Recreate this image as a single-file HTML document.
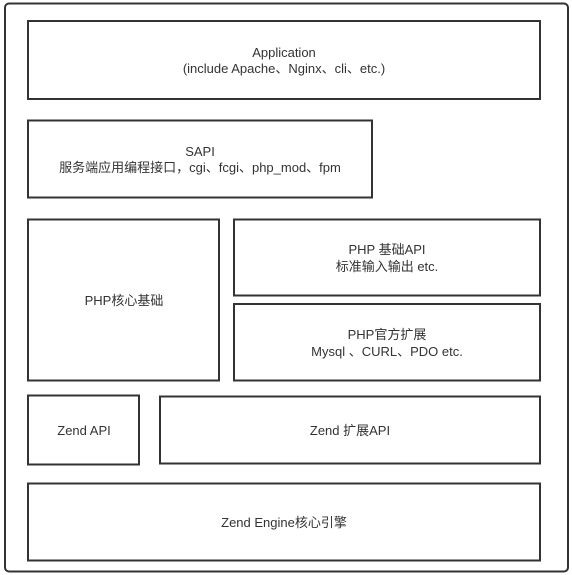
<!DOCTYPE html>
<html><head><meta charset="utf-8"><style>
html,body{margin:0;padding:0;background:#fff;width:572px;height:575px;overflow:hidden}
text{font-family:"Liberation Sans","Noto Sans CJK SC",sans-serif;font-size:13px;fill:#333;text-anchor:middle}
</style></head><body>
<svg width="572" height="575" viewBox="0 0 572 575" xmlns="http://www.w3.org/2000/svg">
<g fill="none" stroke="#333" stroke-width="2">
<rect x="5" y="3.5" width="563" height="568" rx="4"/>
<rect x="28" y="21" width="512" height="78"/>
<rect x="28" y="120.5" width="344" height="77"/>
<rect x="28" y="219.5" width="191" height="161"/>
<rect x="234" y="219.5" width="306" height="76"/>
<rect x="234" y="304" width="306" height="76.5"/>
<rect x="28" y="395.5" width="111" height="69"/>
<rect x="160" y="396.5" width="380" height="67"/>
<rect x="28" y="483.5" width="512" height="77"/>
</g>
<text x="284" y="57">Application</text>
<text x="284" y="73">(include Apache、Nginx、cli、etc.)</text>
<text x="200" y="156">SAPI</text>
<text x="200" y="172">服务端应用编程接口，cgi、fcgi、php_mod、fpm</text>
<text x="124" y="305">PHP核心基础</text>
<text x="387" y="254">PHP 基础API</text>
<text x="387" y="271">标准输入输出 etc.</text>
<text x="387" y="339">PHP官方扩展</text>
<text x="387" y="356">Mysql 、CURL、PDO etc.</text>
<text x="84" y="435">Zend API</text>
<text x="350" y="435">Zend 扩展API</text>
<text x="284" y="527">Zend Engine核心引擎</text>
</svg>
</body></html>
